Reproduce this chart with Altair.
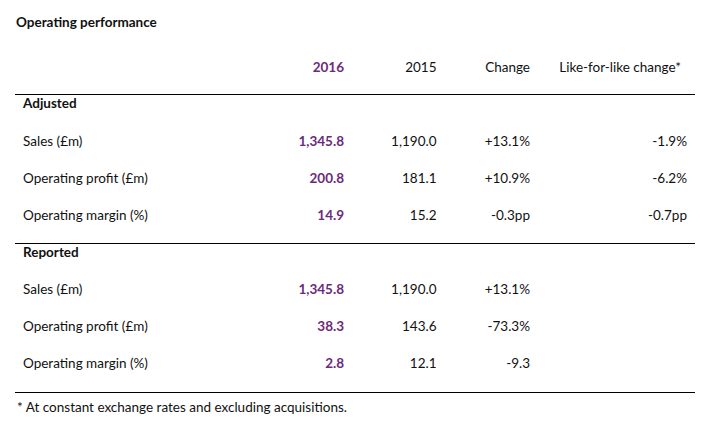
import altair as alt
import pandas as pd

# ---------------- data ----------------
title = "Operating performance"
headers = ["2016", "2015", "Change", "Like-for-like change*"]
sections = ["Adjusted", "Reported"]
metrics = ["Sales (£m)", "Operating profit (£m)", "Operating margin (%)"]
adj_2016 = ["1,345.8", "200.8", "14.9"]
adj_2015 = ["1,190.0", "181.1", "15.2"]
adj_change = ["+13.1%", "+10.9%", "-0.3pp"]
adj_lfl = ["-1.9%", "-6.2%", "-0.7pp"]
rep_2016 = ["1,345.8", "38.3", "2.8"]
rep_2015 = ["1,190.0", "143.6", "12.1"]
rep_change = ["+13.1%", "-73.3%", "-9.3"]
rep_lfl = ["", "", ""]
footnote = "* At constant exchange rates and excluding acquisitions."

# ---------------- layout ----------------
W, H = 690, 410
COL_X = {"title": 8, "label": 15, "foot": 9, "c2016": 336, "c2015": 428.5,
         "cchg": 522, "clfl": 679, "clflh": 673, "ruleL": 7, "ruleR": 687}
ROW_Y = {"title": 19, "header": 64, "sec0": 100, "a0": 138, "a1": 175, "a2": 212,
         "sec1": 249, "r0": 286, "r1": 323, "r2": 360, "foot": 404,
         "rule0": 86.5, "rule1": 235.5, "rule2": 384.5}
FONT = "Lato"
SIZE = 13.5
PURPLE = "#6b2a7c"
INK = "#111111"

recs = []
def add(row, col, text, style):
    recs.append({"row": row, "col": col, "text": text, "style": style})

add("title", "title", title, "leftbold")
add("header", "c2016", headers[0], "purple")
add("header", "c2015", headers[1], "right")
add("header", "cchg", headers[2], "right")
add("header", "clflh", headers[3], "right")
blocks = [("sec0", ["a0", "a1", "a2"], sections[0], adj_2016, adj_2015, adj_change, adj_lfl),
          ("sec1", ["r0", "r1", "r2"], sections[1], rep_2016, rep_2015, rep_change, rep_lfl)]
for sec, rows, name, v16, v15, chg, lfl in blocks:
    add(sec, "label", name, "leftbold")
    for i, r in enumerate(rows):
        add(r, "label", metrics[i], "left")
        add(r, "c2016", v16[i], "purple")
        add(r, "c2015", v15[i], "right")
        add(r, "cchg", chg[i], "right")
        if lfl[i]:
            add(r, "clfl", lfl[i], "right")
add("foot", "foot", footnote, "left")

df = pd.DataFrame(recs)
df["x"] = df["col"].map(COL_X)
df["y"] = df["row"].map(ROW_Y)

rules = pd.DataFrame({"row": ["rule0", "rule1", "rule2"]})
rules["y"] = rules["row"].map(ROW_Y)
rules["x"] = COL_X["ruleL"]
rules["x2"] = COL_X["ruleR"]

xs = alt.Scale(domain=[0, W], range=[0, W], nice=False, zero=False)
ys = alt.Scale(domain=[0, H], range=[0, H], nice=False, zero=False)

base = alt.Chart(df).encode(
    x=alt.X("x:Q", scale=xs, axis=None),
    y=alt.Y("y:Q", scale=ys, axis=None),
    text="text:N",
)

def layer(style, align, weight, color):
    return base.transform_filter(alt.datum.style == style).mark_text(
        align=align, baseline="alphabetic", font=FONT, fontSize=SIZE,
        fontWeight=weight, color=color)

left = layer("left", "left", "normal", INK)
leftbold = layer("leftbold", "left", "bold", INK)
right = layer("right", "right", "normal", INK)
purple = layer("purple", "right", "bold", PURPLE)

rule = alt.Chart(rules).mark_rule(color="#000000", strokeWidth=1).encode(
    x=alt.X("x:Q", scale=xs, axis=None),
    x2="x2:Q",
    y=alt.Y("y:Q", scale=ys, axis=None),
)

chart = alt.layer(rule, left, leftbold, right, purple).properties(
    width=W, height=H, autosize="none", padding=0
).configure_view(strokeWidth=0)

chart.save("out.html", embed_options={"renderer": "svg", "actions": False})
